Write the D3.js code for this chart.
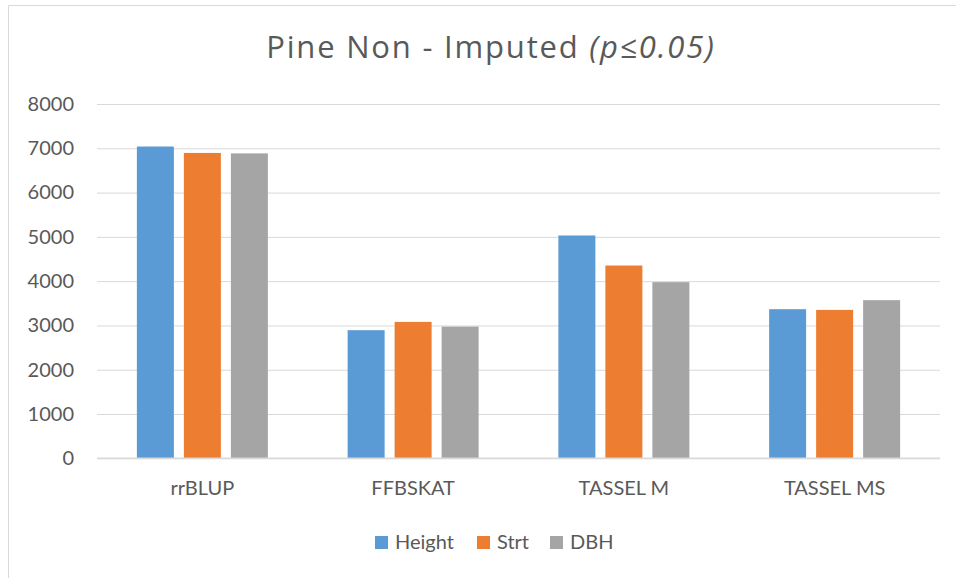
<!DOCTYPE html>
<html>
<head>
<meta charset="utf-8">
<script src="https://cdn.jsdelivr.net/npm/d3@7"></script>
<style>
  html, body { margin: 0; padding: 0; background: #fff; }
  svg { display: block; font-family: Lato, "Open Sans", sans-serif; }
</style>
</head>
<body>
<svg id="chart" width="956" height="578"></svg>
<script>
const categories = ["rrBLUP", "FFBSKAT", "TASSEL M", "TASSEL MS"];
const seriesNames = ["Height", "Strt", "DBH"];
const heightValues = [7040, 2893, 5031, 3367];
const strtValues = [6895, 3080, 4353, 3351];
const dbhValues = [6885, 2974, 3977, 3571];
const yTicks = [0, 1000, 2000, 3000, 4000, 5000, 6000, 7000, 8000];
const colors = ["#5B9BD5", "#ED7D31", "#A5A5A5"];

const seriesValues = [heightValues, strtValues, dbhValues];
const data = categories.map((c, i) => ({
  category: c,
  values: seriesNames.map((s, j) => ({ series: s, value: seriesValues[j][i] }))
}));

const svg = d3.select("#chart");
const textColor = "#595959";
const gridColor = "#D9D9D9";

// chart frame (cropped chart area)
svg.append("path")
  .attr("d", "M8.5,578 L8.5,5.5 L956,5.5")
  .attr("fill", "none")
  .attr("stroke", gridColor)
  .attr("stroke-width", 1);

const plotLeft = 97, plotRight = 940, plotTop = 104, plotBottom = 458.3;

const y = d3.scaleLinear().domain([0, 8000]).range([plotBottom, plotTop]);
const x0 = d3.scaleBand().domain(categories).range([plotLeft, plotRight]).padding(0);
const groupW = x0.bandwidth() * 131 / 210.75;
const groupOff = (x0.bandwidth() - groupW) / 2;
const x1 = d3.scaleBand().domain(seriesNames).range([groupOff, groupOff + groupW])
  .paddingInner(0.213).paddingOuter(0);

// gridlines
const yAxis = d3.axisLeft(y).tickValues(yTicks).tickSize(-(plotRight - plotLeft)).tickPadding(23).tickFormat(d3.format("d"));
const gAxis = svg.append("g").attr("transform", `translate(${plotLeft},0)`).call(yAxis);
gAxis.select(".domain").remove();
gAxis.selectAll(".tick line").attr("stroke", gridColor).attr("stroke-width", 1);
gAxis.selectAll(".tick text")
  .attr("fill", textColor)
  .style("font-size", "20px")
  .style("font-family", "Lato, sans-serif");

// bars
const groups = svg.append("g").selectAll("g")
  .data(data).join("g")
  .attr("transform", d => `translate(${x0(d.category)},0)`);
groups.selectAll("rect")
  .data(d => d.values).join("rect")
  .attr("x", d => x1(d.series))
  .attr("width", x1.bandwidth())
  .attr("y", d => y(d.value))
  .attr("height", d => y(0) - y(d.value))
  .attr("fill", (d, i) => colors[i]);

// baseline redraw
svg.append("line")
  .attr("x1", plotLeft).attr("x2", plotRight)
  .attr("y1", y(0)).attr("y2", y(0))
  .attr("stroke", gridColor).attr("stroke-width", 1.5);

// x axis labels
const xAxis = d3.axisBottom(x0).tickSize(0).tickPadding(23);
const gx = svg.append("g").attr("transform", `translate(0,${plotBottom})`).call(xAxis);
gx.select(".domain").remove();
gx.selectAll(".tick text")
  .attr("fill", textColor)
  .style("font-size", "20px")
  .style("font-family", "Lato, sans-serif");

// title
const title = svg.append("text")
  .attr("x", 491).attr("y", 58)
  .attr("text-anchor", "middle")
  .attr("fill", textColor)
  .style("font-family", "'Open Sans', sans-serif")
  .style("font-size", "31px")
  .style("letter-spacing", "1.8px");
title.append("tspan").text("Pine Non - Imputed ");
title.append("tspan").style("font-style", "italic").text("(p≤0.05)");

// legend
const legendX = [375, 477, 550];
const legend = svg.append("g");
seriesNames.forEach((s, i) => {
  legend.append("rect")
    .attr("x", legendX[i]).attr("y", 536)
    .attr("width", 13).attr("height", 13)
    .attr("fill", colors[i]);
  legend.append("text")
    .attr("x", legendX[i] + 20).attr("y", 549)
    .attr("fill", textColor)
    .style("font-size", "20px")
    .text(s);
});
</script>
</body>
</html>
